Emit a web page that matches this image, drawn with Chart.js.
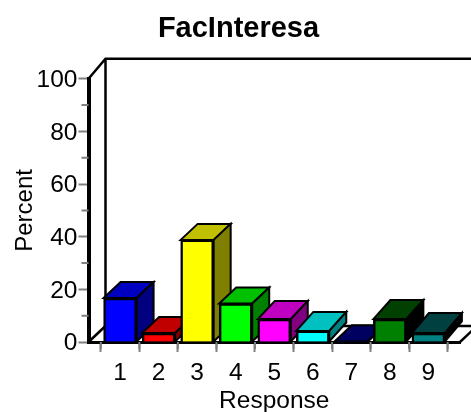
<!DOCTYPE html>
<html>
<head>
<meta charset="utf-8">
<style>body { margin: 0; background: #fff; } canvas { display: block; }</style>
<script src="https://cdn.jsdelivr.net/npm/chart.js@4/dist/chart.umd.js"></script>
</head>
<body>
<canvas id="chart" width="471" height="412"></canvas>
<script>
const categories = [1, 2, 3, 4, 5, 6, 7, 8, 9];
const percent = [16.7, 3.4, 38.8, 14.6, 8.7, 4.2, 0.3, 8.7, 3.4];
const frontColors = ['#0000ff', '#ff0000', '#ffff00', '#00ff00', '#ff00ff', '#00ffff', '#000080', '#008000', '#008080'];
const topColors = ['#0000c0', '#c00000', '#c0c000', '#00c000', '#c000c0', '#00c0c0', '#000060', '#004000', '#004040'];
const sideColors = ['#000080', '#800000', '#808000', '#008000', '#800080', '#008080', '#000040', '#000000', '#000000'];
const yMinorTicks = [10, 30, 50, 70, 90];
const xMinorTicks = [0.5, 1.5, 2.5, 3.5, 4.5, 5.5, 6.5, 7.5, 8.5, 9.5];

const depthX = 17;
const depthY = 16;
// the short bars on the right look a little deeper in the picture
const barDepthY = [16, 16, 16, 16, 18, 19, 16, 19, 20];
const font = 'Liberation Sans, Arial, sans-serif';

const poly = (ctx, pts, fill) => {
    ctx.beginPath();
    pts.forEach((p, i) => (i ? ctx.lineTo(p[0], p[1]) : ctx.moveTo(p[0], p[1])));
    ctx.closePath();
    if (fill) {
        ctx.fillStyle = fill;
        ctx.fill();
    }
    ctx.stroke();
};

const box3d = {
    id: 'box3d',
    beforeDatasetsDraw(chart) {
        const { ctx, chartArea: a, scales } = chart;
        ctx.save();
        ctx.strokeStyle = '#000';
        ctx.lineJoin = 'miter';

        // back wall and floor
        ctx.lineWidth = 2.5;
        ctx.beginPath();
        ctx.moveTo(a.left, a.top);
        ctx.lineTo(a.left + depthX, a.top - 20);
        ctx.lineTo(471, a.top - 20);
        ctx.moveTo(a.left + depthX, a.top - 20);
        ctx.lineTo(a.left + depthX, a.bottom - depthY);
        ctx.lineTo(471, a.bottom - depthY);
        ctx.moveTo(a.left, a.bottom);
        ctx.lineTo(a.left + depthX, a.bottom - depthY);
        ctx.moveTo(a.right, a.bottom);
        ctx.lineTo(a.right + depthX, a.bottom - depthY);
        ctx.stroke();

        // minor ticks
        ctx.strokeStyle = '#808080';
        ctx.lineWidth = 2;
        ctx.beginPath();
        yMinorTicks.forEach((v) => {
            const y = scales.y.getPixelForValue(v);
            ctx.moveTo(a.left - 7, y);
            ctx.lineTo(a.left, y);
        });
        xMinorTicks.forEach((v) => {
            const x = scales.x.getPixelForValue(v);
            ctx.moveTo(x, a.bottom);
            ctx.lineTo(x, a.bottom + 7);
        });
        ctx.stroke();

        // top and side faces, left to right
        ctx.strokeStyle = '#000';
        ctx.lineWidth = 2;
        chart.getDatasetMeta(0).data.forEach((bar, i) => {
            const p = bar.getProps(['x', 'y', 'base', 'width'], true);
            const l = p.x - p.width / 2;
            const r = p.x + p.width / 2;
            const d = barDepthY[i];
            poly(ctx, [[l, p.y], [l + depthX, p.y - d], [r + depthX, p.y - d], [r, p.y]], topColors[i]);
            poly(ctx, [[r, p.y], [r + depthX, p.y - d], [r + depthX, p.base - d], [r, p.base]], sideColors[i]);
        });
        ctx.restore();
    }
};

new Chart(document.getElementById('chart'), {
    type: 'bar',
    data: {
        labels: categories,
        datasets: [{
            label: 'FacInteresa',
            data: categories.map((c, i) => ({ x: c, y: percent[i] })),
            backgroundColor: frontColors,
            borderColor: '#000',
            borderWidth: 2.5,
            barThickness: 33
        }]
    },
    options: {
        responsive: false,
        animation: false,
        layout: { padding: { left: 17, right: 11, top: 12, bottom: 0 } },
        plugins: {
            legend: { display: false },
            tooltip: { enabled: false },
            title: {
                display: true,
                text: 'FacInteresa',
                color: '#000',
                font: { family: font, size: 29, weight: 'bold' },
                padding: { top: 0, bottom: 32 }
            }
        },
        scales: {
            x: {
                type: 'linear',
                offset: false,
                min: 0.18,
                max: 9.82,
                afterBuildTicks: (scale) => { scale.ticks = categories.map((c) => ({ value: c })); },
                afterFit: (scale) => { scale.height = 70; },
                title: { display: true, text: 'Response', color: '#000', font: { family: font, size: 24.5 }, padding: { top: 0, bottom: -4 } },
                ticks: { color: '#000', font: { family: font, size: 24.5 }, maxRotation: 0, padding: 7, callback: (v) => v },
                grid: { drawOnChartArea: false, tickLength: 10, tickColor: '#808080', tickWidth: 2 },
                border: { color: '#000', width: 3 }
            },
            y: {
                min: 0,
                max: 100,
                afterFit: (scale) => { scale.width = 71.5; },
                title: { display: true, text: 'Percent', color: '#000', font: { family: font, size: 24 }, padding: { top: -6, bottom: 0 } },
                ticks: { stepSize: 20, color: '#000', font: { family: font, size: 24.5 }, padding: 1, labelOffset: 1.5 },
                grid: { drawOnChartArea: false, tickLength: 10, tickColor: '#808080', tickWidth: 2 },
                border: { color: '#000', width: 4 }
            }
        }
    },
    plugins: [box3d]
});
</script>
</body>
</html>
